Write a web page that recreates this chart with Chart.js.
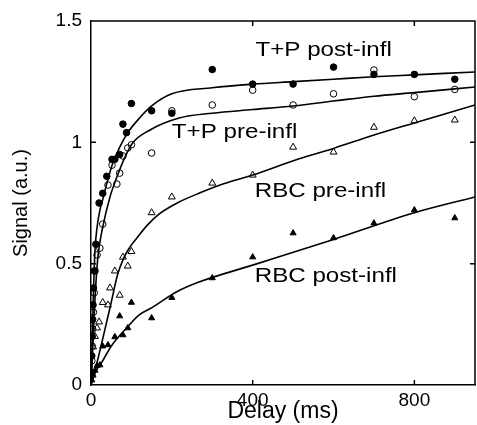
<!DOCTYPE html>
<html>
<head>
<meta charset="utf-8">
<script src="https://cdn.jsdelivr.net/npm/chart.js@4/dist/chart.umd.min.js"></script>
<style>
  html, body { margin: 0; padding: 0; background: #fff; overflow: hidden; }
  .wrapper { width: 480px; height: 425px; }
</style>
</head>
<body>
<div class="wrapper"><canvas id="signalChart"></canvas></div>
<script>
// axis ticks
var xTicks = [0, 400, 800];
var yTicks = [0, 0.5, 1, 1.5];

// T+P post-infl (filled circles)
var tpPostX = [1, 2, 3, 4, 5, 6, 8, 12, 20, 29, 39, 52, 59, 71, 79, 88, 100, 150, 200, 300, 400, 500, 600, 700, 800, 900];
var tpPostY = [0.05, 0.12, 0.2, 0.27, 0.33, 0.4, 0.47, 0.58, 0.75, 0.79, 0.86, 0.93, 0.93, 0.95, 1.075, 1.04, 1.16, 1.13, 1.12, 1.30, 1.24, 1.24, 1.31, 1.28, 1.28, 1.26];

// T+P pre-infl (open circles)
var tpPreX = [1, 2, 3, 4, 6, 8, 10, 15, 22, 29, 42, 52, 64, 71, 79, 91, 100, 150, 200, 300, 400, 500, 600, 700, 800, 900];
var tpPreY = [0.04, 0.1, 0.16, 0.23, 0.3, 0.38, 0.47, 0.536, 0.564, 0.663, 0.824, 0.906, 0.828, 0.873, 0.944, 0.977, 0.99, 0.956, 1.13, 1.154, 1.215, 1.154, 1.20, 1.298, 1.188, 1.218];

// RBC pre-infl (open triangles)
var rbcPreX = [2, 5, 10, 15, 20, 29, 42, 47, 59, 71, 79, 91, 100, 150, 200, 300, 400, 500, 600, 700, 800, 900];
var rbcPreY = [0.05, 0.157, 0.2, 0.235, 0.26, 0.34, 0.33, 0.40, 0.47, 0.37, 0.527, 0.49, 0.55, 0.71, 0.775, 0.832, 0.865, 0.98, 0.96, 1.062, 1.089, 1.092];

// RBC post-infl (filled triangles)
var rbcPostX = [2, 5, 10, 15, 22, 29, 42, 59, 71, 79, 91, 100, 150, 200, 300, 400, 500, 600, 700, 800, 900];
var rbcPostY = [0.02, 0.04, 0.06, 0.08, 0.082, 0.16, 0.165, 0.198, 0.284, 0.206, 0.235, 0.34, 0.276, 0.36, 0.441, 0.527, 0.626, 0.606, 0.667, 0.721, 0.688];

// fitted curves
var tpPostFitX = [0, 2, 4, 6, 8, 10, 15, 22, 30, 39, 54, 71, 91, 120, 150, 200, 300, 400, 500, 600, 700, 800, 950];
var tpPostFitY = [0, 0.1, 0.25, 0.38, 0.48, 0.56, 0.65, 0.72, 0.77, 0.83, 0.915, 0.98, 1.04, 1.1, 1.15, 1.2, 1.225, 1.24, 1.25, 1.26, 1.27, 1.278, 1.29];

var tpPreFitX = [0, 3, 6, 10, 17, 29, 47, 64, 83, 103, 145, 218, 300, 400, 500, 600, 700, 800, 950];
var tpPreFitY = [0, 0.1, 0.22, 0.36, 0.527, 0.65, 0.775, 0.857, 0.935, 0.997, 1.05, 1.10, 1.12, 1.135, 1.15, 1.17, 1.19, 1.205, 1.228];

var rbcPreFitX = [0, 10, 29, 50, 65, 80, 95, 113, 140, 169, 218, 267, 330, 400, 513, 600, 700, 800, 950];
var rbcPreFitY = [0, 0.06, 0.19, 0.34, 0.45, 0.52, 0.565, 0.605, 0.66, 0.705, 0.754, 0.79, 0.83, 0.865, 0.931, 0.975, 1.03, 1.08, 1.154];

var rbcPostFitX = [0, 10, 29, 50, 88, 120, 152, 211, 267, 400, 600, 800, 950];
var rbcPostFitY = [0, 0.05, 0.1, 0.16, 0.235, 0.29, 0.32, 0.383, 0.424, 0.494, 0.60, 0.71, 0.775];

// curve labels (text, delay, signal)
var labelTexts = ['T+P post-infl', 'T+P pre-infl', 'RBC pre-infl', 'RBC post-infl'];
var labelX = [407, 200, 405, 405];
var labelY = [1.38, 1.042, 0.80, 0.449];

function pts(xs, ys) {
    return xs.map(function(v, i) { return {x: v, y: ys[i]}; });
}

function fitLine(xs, ys) {
    return {
        data: pts(xs, ys),
        showLine: true,
        borderColor: '#000',
        borderWidth: 1.6,
        pointRadius: 0,
        cubicInterpolationMode: 'monotone',
        fill: false
    };
}

function marks(xs, ys, style, filled, r) {
    return {
        data: pts(xs, ys),
        showLine: false,
        pointStyle: style,
        pointRadius: r,
        pointBorderWidth: 1,
        pointBorderColor: '#000',
        pointBackgroundColor: filled ? '#000' : 'rgba(0,0,0,0)'
    };
}

var framePlugin = {
    id: 'frame',
    afterDraw: function(chart) {
        var ctx = chart.ctx;
        var a = chart.chartArea;
        var xs = chart.scales.x, ys = chart.scales.y;
        ctx.save();
        ctx.strokeStyle = '#000';
        ctx.lineWidth = 1.5;
        ctx.beginPath();
        ctx.moveTo(a.left, a.top);
        ctx.lineTo(a.right, a.top);
        ctx.lineTo(a.right, a.bottom);
        ctx.stroke();
        // inward ticks
        ctx.beginPath();
        xTicks.slice(1).forEach(function(v) {
            var px = xs.getPixelForValue(v);
            ctx.moveTo(px, a.bottom); ctx.lineTo(px, a.bottom - 5);
            ctx.moveTo(px, a.top); ctx.lineTo(px, a.top + 5);
        });
        yTicks.slice(1, -1).forEach(function(v) {
            var py = ys.getPixelForValue(v);
            ctx.moveTo(a.left, py); ctx.lineTo(a.left + 5, py);
            ctx.moveTo(a.right, py); ctx.lineTo(a.right - 5, py);
        });
        ctx.stroke();
        // curve labels
        ctx.fillStyle = '#000';
        ctx.font = '21px "Liberation Sans", Arial, sans-serif';
        ctx.textBaseline = 'middle';
        ctx.textAlign = 'left';
        labelTexts.forEach(function(t, i) {
            ctx.save();
            ctx.translate(xs.getPixelForValue(labelX[i]), ys.getPixelForValue(labelY[i]));
            ctx.scale(1.15, 1);
            ctx.fillText(t, 0, 0);
            ctx.restore();
        });
        ctx.restore();
    }
};

var ctx = document.getElementById('signalChart').getContext('2d');
var chart = new Chart(ctx, {
    type: 'scatter',
    data: {
        datasets: [
            fitLine(tpPostFitX, tpPostFitY),
            fitLine(tpPreFitX, tpPreFitY),
            fitLine(rbcPreFitX, rbcPreFitY),
            fitLine(rbcPostFitX, rbcPostFitY),
            marks(tpPostX, tpPostY, 'circle', true, 3.3),
            marks(tpPreX, tpPreY, 'circle', false, 3.3),
            marks(rbcPreX, rbcPreY, 'triangle', false, 4),
            marks(rbcPostX, rbcPostY, 'triangle', true, 3.5)
        ]
    },
    options: {
        responsive: true,
        maintainAspectRatio: false,
        animation: false,
        layout: { padding: { top: 21, right: 2, left: 0, bottom: 0 } },
        plugins: { legend: { display: false }, tooltip: { enabled: false } },
        scales: {
            x: {
                type: 'linear',
                min: 0,
                max: 950,
                afterBuildTicks: function(s) { s.ticks = xTicks.map(function(v) { return {value: v}; }); },
                afterFit: function(s) { s.height = 40; },
                grid: { drawOnChartArea: false, drawTicks: false },
                border: { display: true, color: '#000', width: 1.5 },
                ticks: {
                    color: '#000',
                    padding: 4,
                    maxRotation: 0,
                    callback: function(v) { return String(v); },
                    font: { family: '"Liberation Sans", Arial, sans-serif', size: 19 }
                },
                title: {
                    display: true,
                    text: 'Delay (ms)',
                    color: '#000',
                    padding: 0,
                    font: { family: '"Liberation Sans", Arial, sans-serif', size: 23 }
                }
            },
            y: {
                type: 'linear',
                min: 0,
                max: 1.5,
                afterBuildTicks: function(s) { s.ticks = yTicks.map(function(v) { return {value: v}; }); },
                afterFit: function(s) { s.width = 91; },
                grid: { drawOnChartArea: false, drawTicks: false },
                border: { display: true, color: '#000', width: 1.5 },
                ticks: {
                    color: '#000',
                    padding: 9,
                    callback: function(v) { return String(v); },
                    font: { family: '"Liberation Sans", Arial, sans-serif', size: 19 }
                },
                title: {
                    display: true,
                    text: 'Signal (a.u.)',
                    color: '#000',
                    padding: { top: 9, bottom: 0 },
                    font: { family: '"Liberation Sans", Arial, sans-serif', size: 20 }
                }
            }
        }
    },
    plugins: [framePlugin]
});
</script>
</body>
</html>
